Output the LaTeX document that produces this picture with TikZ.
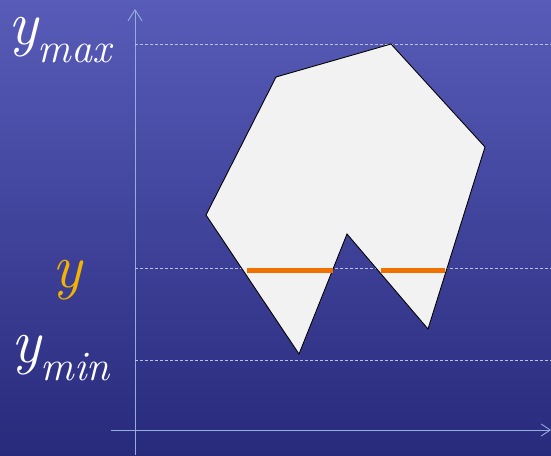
\documentclass[tikz,border=0pt]{standalone}
\usepackage{xcolor}
\usepackage{tikz}
\usetikzlibrary{arrows.meta, calc, positioning}

\definecolor{bgtop}{RGB}{88,92,184}
\definecolor{bgbot}{RGB}{40,42,124}
\definecolor{axiscol}{RGB}{150,172,220}
\definecolor{scancol}{RGB}{240,112,0}
\definecolor{ygold}{RGB}{242,180,0}
\definecolor{polyfill}{RGB}{242,242,242}

\tikzset{
  axis/.style={axiscol, line width=0.9pt},
  guide/.style={axiscol!70!white, line width=0.6pt, dash pattern=on 3pt off 2pt},
  lbl/.style={inner sep=0pt, anchor=base west, font=\fontsize{62}{62}\selectfont\itshape},
  span/.style={scancol, line width=5pt}
}

\newcommand{\subtxt}[1]{\raisebox{-18pt}{\fontsize{42}{42}\selectfont\itshape #1}}

\begin{document}
\begin{tikzpicture}[x=1pt, y=-1pt]

% Background
\useasboundingbox (0,0) rectangle (551,455);
\shade[top color=bgtop, bottom color=bgbot] (0,0) rectangle (551,455);

% Axes
\draw[axis, -{Straight Barb[length=11pt, width=14pt]}] (135,455) -- (135,9);
\draw[axis, -{Straight Barb[length=9pt, width=12pt]}] (111,430) -- (551,430);

% Scanline guides
\draw[guide] (135,44) -- (551,44);
\draw[guide] (135,268) -- (551,268);
\draw[guide] (135,360) -- (551,360);

% Polygon
\draw[fill=polyfill, line width=0.9pt] (391,44) -- (485,147) -- (428,329) -- (347,234)
  -- (299,354) -- (206,215) -- (276,77) -- cycle;

% Spans inside the polygon
\draw[span] (247,270) -- (333,270);
\draw[span] (381,270) -- (445,270);

% Labels
\node[lbl, white] (ymax) at (8,44) {y\subtxt{max}};
\node[lbl, ygold] (ycur) at (52,287) {y};
\node[lbl, white] (ymin) at (11,362) {y\subtxt{min}};

\end{tikzpicture}
\end{document}
